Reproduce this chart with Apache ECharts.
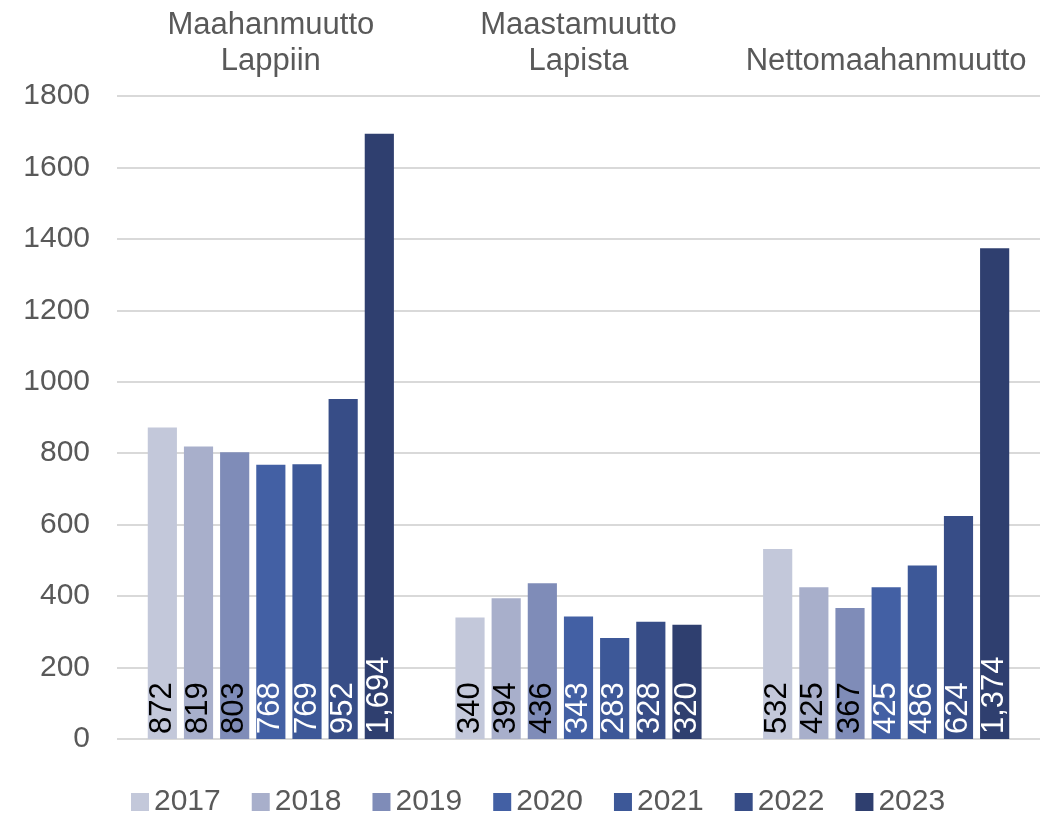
<!DOCTYPE html>
<html><head><meta charset="utf-8">
<script src="https://cdn.jsdelivr.net/npm/echarts@6/dist/echarts.min.js"></script>
<style>html,body{margin:0;padding:0;background:#fff}#c{width:1050px;height:813px}</style>
</head><body><div id="c"></div>
<script>
const categories = ['Maahanmuutto\nLappiin', 'Maastamuutto\nLapista', 'Nettomaahanmuutto'];
const years = ['2017', '2018', '2019', '2020', '2021', '2022', '2023'];
const v2017 = [872, 340, 532];
const v2018 = [819, 394, 425];
const v2019 = [803, 436, 367];
const v2020 = [768, 343, 425];
const v2021 = [769, 283, 486];
const v2022 = [952, 328, 624];
const v2023 = [1694, 320, 1374];
const yTicks = [0, 1800, 200];

const values = [v2017, v2018, v2019, v2020, v2021, v2022, v2023];
const colors = ['#c3c8da', '#a8afcb', '#7f8cb8', '#4360a4', '#3d5898', '#374d87', '#2f3f6f'];
const labelColors = ['#000', '#000', '#000', '#fff', '#fff', '#fff', '#fff'];
const FONT = 'Liberation Sans, Arial, sans-serif';

const series = years.map((y, i) => ({
  name: y,
  type: 'bar',
  data: values[i],
  barGap: '24%',
  barCategoryGap: '20%',
  itemStyle: { color: colors[i] },
  label: {
    show: true,
    position: 'insideBottom',
    rotate: 90,
    align: 'left',
    verticalAlign: 'middle',
    distance: 5,
    color: labelColors[i],
    fontFamily: FONT,
    fontSize: 31,
    formatter: p => p.value.toLocaleString('en-US')
  }
}));

const chart = echarts.init(document.getElementById('c'));
chart.setOption({
  animation: false,
  color: colors,
  grid: { left: 117, right: 10, top: 96, bottom: 74, containLabel: false },
  legend: {
    top: 782,
    left: 126,
    itemWidth: 18,
    itemHeight: 18,
    itemGap: 31,
    icon: 'rect',
    textStyle: { fontSize: 30, color: '#595959', fontFamily: FONT, padding: [0, 0, 0, 0] },
    data: years
  },
  xAxis: {
    type: 'category',
    position: 'top',
    data: categories,
    axisLine: { show: false },
    axisTick: { show: false },
    axisLabel: {
      fontSize: 31,
      lineHeight: 36,
      color: '#595959',
      fontFamily: FONT,
      margin: 17,
      interval: 0
    }
  },
  yAxis: {
    type: 'value',
    min: yTicks[0],
    max: yTicks[1],
    interval: yTicks[2],
    axisLine: { show: false },
    axisTick: { show: false },
    splitLine: { lineStyle: { color: '#d9d9d9', width: 2 } },
    axisLabel: { fontSize: 30, color: '#595959', fontFamily: FONT, margin: 27, formatter: v => String(v) }
  },
  series
});
</script></body></html>
